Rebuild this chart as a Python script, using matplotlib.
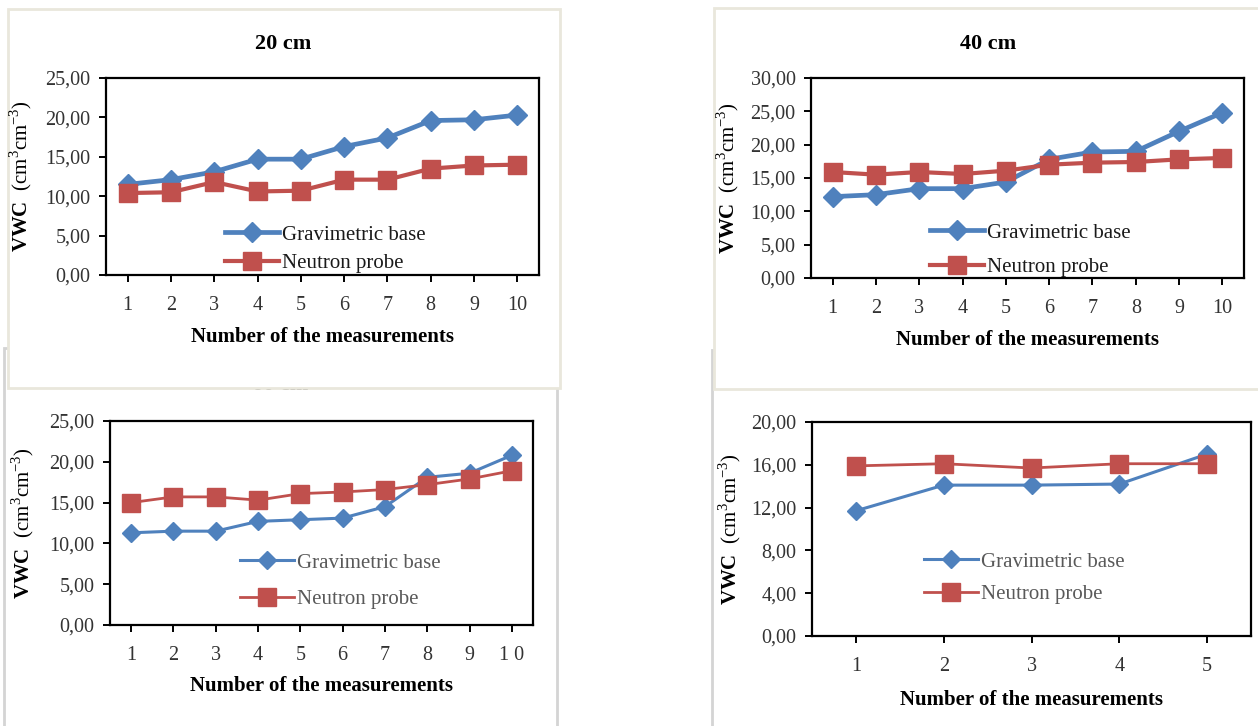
#!/usr/bin/env python3
import matplotlib as mpl
mpl.use('Agg')
import matplotlib.pyplot as plt
from matplotlib.patches import Rectangle
from matplotlib.ticker import FuncFormatter

plt.rcParams['font.family'] = ['Liberation Serif', 'DejaVu Serif']
plt.rcParams['mathtext.fontset'] = 'custom'
plt.rcParams['mathtext.rm'] = 'Liberation Serif'
plt.rcParams['mathtext.bf'] = 'Liberation Serif:bold'

# ---- data ----
depths = ['20 cm', '40 cm', '60 cm', '80 cm']

meas_10 = [1, 2, 3, 4, 5, 6, 7, 8, 9, 10]
meas_5 = [1, 2, 3, 4, 5]

grav_20 = [11.5, 12.1, 13.1, 14.7, 14.7, 16.3, 17.4, 19.6, 19.7, 20.3]
neut_20 = [10.4, 10.5, 11.8, 10.6, 10.7, 12.1, 12.1, 13.5, 13.9, 14.0]

grav_40 = [12.2, 12.5, 13.4, 13.4, 14.4, 17.8, 18.9, 19.0, 22.0, 24.8]
neut_40 = [15.9, 15.5, 15.9, 15.6, 16.1, 17.0, 17.3, 17.4, 17.8, 18.0]

grav_60 = [11.3, 11.5, 11.5, 12.7, 12.9, 13.1, 14.5, 18.1, 18.6, 20.8]
neut_60 = [15.0, 15.7, 15.7, 15.3, 16.1, 16.3, 16.6, 17.2, 17.9, 18.9]

grav_80 = [11.7, 14.1, 14.1, 14.2, 17.0]
neut_80 = [15.9, 16.1, 15.7, 16.1, 16.1]

xticks_10 = ['1', '2', '3', '4', '5', '6', '7', '8', '9', '10']
xticks_60 = ['1', '2', '3', '4', '5', '6', '7', '8', '9', '1 0']
xticks_5 = ['1', '2', '3', '4', '5']

yticks_25 = [0, 5, 10, 15, 20, 25]
yticks_30 = [0, 5, 10, 15, 20, 25, 30]
yticks_20 = [0, 4, 8, 12, 16, 20]

series_names = ['Gravimetric base', 'Neutron probe']

BLUE = '#4F81BD'
RED = '#C0504D'

W, H = 1258, 726
fig = plt.figure(figsize=(W / 100, H / 100), dpi=100)


def fbox(x0, y0, x1, y1):
    # pixel box (top-left origin) -> figure fraction [l, b, w, h]
    return [x0 / W, 1 - y1 / H, (x1 - x0) / W, (y1 - y0) / H]


def frame(x0, y0, x1, y1, color, lw, z):
    l, b, w, h = fbox(x0, y0, x1, y1)
    fig.patches.append(Rectangle((l, b), w, h, transform=fig.transFigure,
                                 facecolor='white', edgecolor=color,
                                 linewidth=lw, zorder=z))


def panel(rect, x, g, n, xt, yt, title, title_xy, leg_xy, leg_sp, top,
          ylab_x, xlab_pad):
    ax = fig.add_axes(fbox(*rect), zorder=3 if top else 1)
    lw_g = 3.4 if top else 2.2
    lw_n = 3.0 if top else 2.0
    ax.plot(x, g, color=BLUE, lw=lw_g, marker='D', ms=10 if top else 9,
            label=series_names[0], solid_joinstyle='round')
    ax.plot(x, n, color=RED, lw=lw_n, marker='s', ms=13.5 if top else 12.5,
            label=series_names[1])
    ax.set_xlim(0.5, len(x) + 0.5)
    ax.set_ylim(yt[0], yt[-1])
    ax.set_xticks(x)
    ax.set_xticklabels(xt)
    ax.set_yticks(yt)
    ax.yaxis.set_major_formatter(FuncFormatter(
        lambda v, p: ('%.2f' % v).replace('.', ',')))
    for s in ax.spines.values():
        s.set_linewidth(1.6)
        s.set_color('black')
    ax.tick_params(axis='both', direction='out', length=5, width=1.4,
                   labelsize=14.5, labelcolor='#333333')
    ax.tick_params(axis='x', pad=10)
    ax.tick_params(axis='y', pad=6)
    ax.set_xlabel('Number of the measurements', fontsize=15,
                  fontweight='bold', labelpad=xlab_pad)
    ax.set_ylabel(r'$\mathbf{VWC}$  (cm$^{3}$cm$^{-3}$)', fontsize=15)
    ax.yaxis.set_label_coords((ylab_x - rect[0]) / (rect[2] - rect[0]), 0.5)
    lx = (leg_xy[0] - rect[0]) / (rect[2] - rect[0])
    ly = (rect[3] - leg_xy[1]) / (rect[3] - rect[1])
    ax.legend(loc='upper left', bbox_to_anchor=(lx, ly), frameon=False,
              borderpad=0, borderaxespad=0, handlelength=2.6,
              handletextpad=0.15, labelspacing=leg_sp,
              fontsize=15,
              labelcolor='#1a1a1a' if top else '#595959')
    fig.text(title_xy[0] / W, 1 - title_xy[1] / H, title, ha='center',
             va='center', fontsize=16, fontweight='bold',
             zorder=3 if top else 1.5)
    return ax


# panel frames: lower panels first, upper panels drawn over them
frame(4, 348, 557, 740, '#d4d4d4', 2.0, 0.5)
frame(712, 350, 1270, 740, '#d4d4d4', 2.0, 0.5)
frame(8, 9, 560, 388, '#e9e7dc', 2.0, 2)
frame(714, 8, 1270, 389, '#e9e7dc', 2.0, 2)

panel((106, 78, 539, 275), meas_10, grav_20, neut_20, xticks_10, yticks_25,
      depths[0], (283, 44), (225, 225), 0.42, True, 34, 9)
panel((811, 78, 1244, 278), meas_10, grav_40, neut_40, xticks_10, yticks_30,
      depths[1], (988, 44), (930, 223), 0.72, True, 741, 9)
panel((110, 421, 533, 625), meas_10, grav_60, neut_60, xticks_60, yticks_25,
      depths[2], (280, 385), (240, 553), 0.82, False, 36, 8)
panel((812, 422, 1251, 636), meas_5, grav_80, neut_80, xticks_5, yticks_20,
      depths[3], (985, 385), (924, 552), 0.62, False, 743, 10)

fig.savefig('out.png', dpi=100)
